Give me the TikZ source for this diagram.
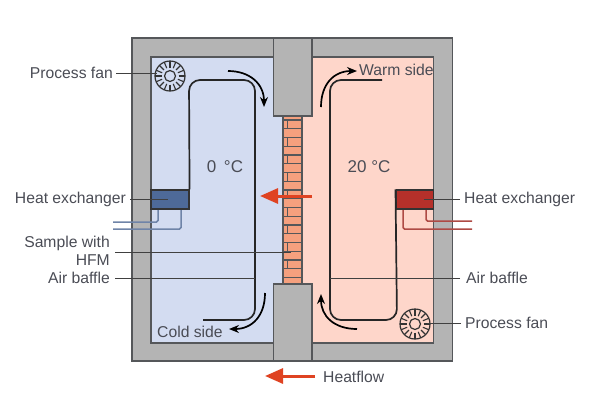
\documentclass[tikz,border=0pt]{standalone}
\usepackage{fontspec}
\setmainfont{Liberation Sans}
\usepackage{tikz}
\usetikzlibrary{arrows.meta,positioning}
\definecolor{wallgray}{HTML}{B4B4B4}
\definecolor{linegray}{HTML}{55575A}
\definecolor{coldfill}{HTML}{D3DCF1}
\definecolor{warmfill}{HTML}{FED6CA}
\definecolor{brickfill}{HTML}{F5A07E}
\definecolor{coldhx}{HTML}{4E6A98}
\definecolor{warmhx}{HTML}{B5302A}
\definecolor{coldpipe}{HTML}{6F84A8}
\definecolor{warmpipe}{HTML}{AE4A44}
\definecolor{heatred}{HTML}{DF4322}
\definecolor{labelgray}{HTML}{4A4C55}
\tikzset{
  wall/.style={draw=linegray,fill=wallgray,line width=1.1pt},
  baffle/.style={draw=black!85,line width=1.7pt,rounded corners=11pt},
  airflow/.style={draw=black,line width=1.7pt,-{Stealth[length=10pt,width=8pt]}},
  heatarrow/.style={draw=heatred,line width=3pt,-{Triangle[length=18pt,width=15pt]}},
  leader/.style={draw=black!75,line width=1pt},
  txt/.style={text=labelgray,font=\fontsize{15.7}{18}\selectfont,inner sep=0pt},
  tempfont/.style={text=labelgray,font=\fontsize{17}{18}\selectfont,inner sep=0pt},
  pipe/.style={line width=1.5pt,rounded corners=1.5pt},
  fan/.pic={
    \draw[black!80,line width=1.2pt] (0,0) circle (15) (0,0) circle (5.5);
    \foreach \a in {0,22.5,...,337.5}
      \draw[black!80,line width=1.1pt] (\a:8.5) -- (\a:15);
  }
}
\begin{document}
\begin{tikzpicture}[x=1pt,y=-1pt]
\useasboundingbox (0,0) rectangle (600,400);
% walls and the two chambers
\draw[wall] (132,38) rectangle (452.5,361);
\draw[draw=linegray,line width=1.1pt,fill=coldfill] (151,57) rectangle (283,343);
\draw[draw=linegray,line width=1.1pt,fill=warmfill] (302,57) rectangle (433.5,343);
% brick sample
\fill[brickfill] (283,112) rectangle (302,288);
\foreach \k in {0,...,18}
  \draw[linegray,line width=1.1pt] (283,120+8.75*\k) -- (302,120+8.75*\k);
\foreach \k in {0,...,8}
  \draw[linegray,line width=1.1pt] (287.5,120+17.5*\k) -- (287.5,128.75+17.5*\k);
\draw[linegray,line width=1.1pt] (283,112) -- (283,288) (302,112) -- (302,288);
\draw[wall] (273.5,38) rectangle (312,116);
\draw[wall] (273.5,284) rectangle (312,361);
% heat exchangers
\draw[coldpipe,pipe] (158,205) |- (113,222);
\draw[coldpipe,pipe] (181,205) |- (113,229);
\draw[warmpipe,pipe] (426,205) |- (472,221);
\draw[warmpipe,pipe] (403,205) |- (472,229);
\node[draw=black!80,fill=coldhx,line width=1.1pt,minimum width=38pt,minimum height=19pt,inner sep=0pt] (hxcold) at (170,199.5) {};
\node[draw=black!80,fill=warmhx,line width=1.1pt,minimum width=37.5pt,minimum height=19pt,inner sep=0pt] (hxwarm) at (414.8,199.5) {};
% baffles
\coordinate (bafflecoldend) at (203,320);
\coordinate (bafflewarmend) at (382,80);
\draw[baffle] (hxcold.north east) -- (189,80) -- (255,80) -- (255,320) -- (bafflecoldend);
\draw[baffle] (bafflewarmend) -- (330,80) -- (330,320) -- (397,320) -- (hxwarm.north west);
% fans
\path (170,76) coordinate (fancold) pic {fan};
\path (415,324) coordinate (fanwarm) pic {fan};
% air flow
\draw[airflow] (228,71) .. controls (250,71) and (264,84) .. (264,107);
\draw[airflow] (321,107) .. controls (321,84) and (334,71) .. (357,71);
\draw[airflow] (265,293) .. controls (265,316) and (252,329) .. (229,329);
\draw[airflow] (357,329) .. controls (334,329) and (321,316) .. (321,294);
% labels
\node[txt,anchor=east] (fanleft) at (113,73) {Process fan};
\node[txt,anchor=east] (hxleft) at (126,199) {Heat exchanger};
\node[txt,align=right,anchor=east] (sample) at (110,251) {Sample with\\HFM};
\node[txt,anchor=east] (baffleleft) at (110,278) {Air baffle};
\node[txt,anchor=west] (hxright) at (464,199) {Heat exchanger};
\node[txt,anchor=west] (baffleright) at (466,278) {Air baffle};
\node[txt,anchor=west] (fanright) at (465,323) {Process fan};
\node[txt,anchor=west] (warmside) at (359,70) {Warm side};
\node[txt,anchor=west] (coldside) at (157,332) {Cold side};
\node[tempfont] (tempcold) at (225,167) {0 \,°C};
\node[tempfont] (tempwarm) at (369,167) {20 °C};
\node[txt,anchor=west] (heatflow) at (323,377) {Heatflow};
% leader lines
\coordinate (samplehit) at (291,252);
\coordinate (bafflecoldhit) at (255,278);
\coordinate (bafflewarmhit) at (330,278);
\draw[leader] (fanleft.east) ++(3,0) -- (157,73);
\draw[leader] (hxleft.east) ++(4,0) -- (168,199);
\draw[leader] (sample.east) ++(5,1) -- (samplehit);
\draw[leader] (baffleleft.east) ++(5,0) -- (bafflecoldhit);
\draw[leader] (hxright.west) ++(-4,0) -- (424,199);
\draw[leader] (baffleright.west) ++(-6,0) -- (bafflewarmhit);
\draw[leader] (fanright.west) ++(-4,0) -- (427,323);
% heat flow arrows
\coordinate (heatstart) at (312,196);
\coordinate (heatend) at (260,196);
\draw[heatarrow] (heatstart) -- (heatend);
\coordinate (flowend) at (265,376);
\draw[heatarrow] (heatflow.west) ++(-8,-1) -- (flowend);
\end{tikzpicture}
\end{document}
